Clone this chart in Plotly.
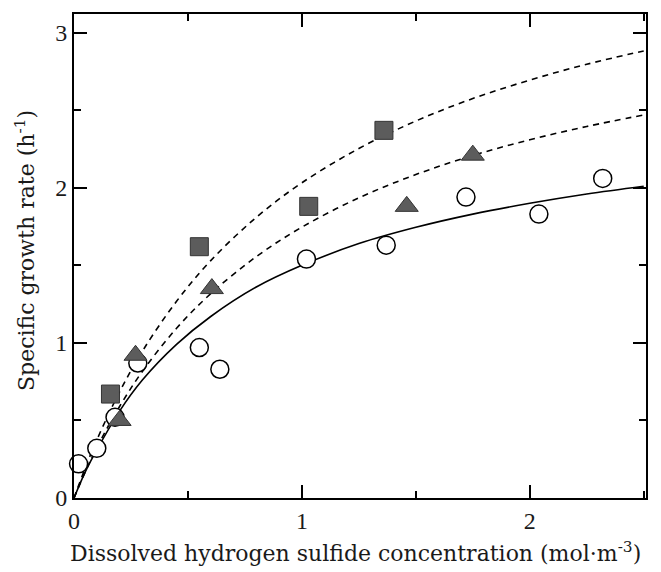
import plotly.graph_objects as go

# Data
circle_x = [0.02, 0.10, 0.18, 0.28, 0.55, 0.64, 1.02, 1.37, 1.72, 2.04, 2.32]
circle_y = [0.22, 0.32, 0.52, 0.87, 0.97, 0.83, 1.54, 1.63, 1.94, 1.83, 2.06]

square_x = [0.16, 0.55, 1.03, 1.36]
square_y = [0.67, 1.62, 1.88, 2.37]

triangle_x = [0.20, 0.27, 0.605, 1.46, 1.75]
triangle_y = [0.50, 0.92, 1.35, 1.88, 2.21]

curve_x = [0, 0.05, 0.1, 0.2, 0.3, 0.45, 0.6, 0.8, 1.0, 1.25, 1.5, 1.75, 2.0, 2.25, 2.5]
solid_y = [0, 0.17, 0.31, 0.56, 0.76, 0.99, 1.17, 1.36, 1.50, 1.64, 1.745, 1.83, 1.90, 1.96, 2.01]
dash_low_y = [0, 0.17, 0.324, 0.59, 0.816, 1.094, 1.317, 1.556, 1.746, 1.935, 2.085, 2.208, 2.309, 2.395, 2.469]
dash_up_y = [0, 0.196, 0.374, 0.684, 0.946, 1.268, 1.53, 1.809, 2.032, 2.253, 2.43, 2.575, 2.694, 2.796, 2.882]

x_ticks = [0, 1, 2]
y_ticks = [0, 1, 2, 3]
x_title = "Dissolved hydrogen sulfide concentration (mol\u00b7m<sup>-3</sup>)"
y_title = "Specific growth rate (h<sup>-1</sup>)"

GRAY = "#5c5c5c"

fig = go.Figure()
fig.add_trace(go.Scatter(x=curve_x, y=dash_up_y, mode="lines", line_shape="spline",
                         line=dict(color="black", width=1.6, dash="6px,5px"), showlegend=False))
fig.add_trace(go.Scatter(x=curve_x, y=dash_low_y, mode="lines", line_shape="spline",
                         line=dict(color="black", width=1.6, dash="6px,5px"), showlegend=False))
fig.add_trace(go.Scatter(x=curve_x, y=solid_y, mode="lines", line_shape="spline",
                         line=dict(color="black", width=1.6), showlegend=False))
fig.add_trace(go.Scatter(x=circle_x, y=circle_y, mode="markers", cliponaxis=False,
                         marker=dict(symbol="circle", size=18, color="white",
                                     line=dict(color="black", width=1.5)), showlegend=False))
fig.add_trace(go.Scatter(x=triangle_x, y=triangle_y, mode="markers", cliponaxis=False,
                         marker=dict(symbol="triangle-up", size=20, color=GRAY,
                                     line=dict(color="#333333", width=1)), showlegend=False))
fig.add_trace(go.Scatter(x=square_x, y=square_y, mode="markers", cliponaxis=False,
                         marker=dict(symbol="square", size=18, color=GRAY,
                                     line=dict(color="#333333", width=1)), showlegend=False))

axis_common = dict(showline=True, linecolor="black", linewidth=2, mirror="ticks",
                   ticks="inside", ticklen=13, tickwidth=1.5, tickcolor="black",
                   showgrid=False, zeroline=False,
                   tickfont=dict(family="Liberation Serif", size=24, color="#1a1a1a"),
                   minor=dict(ticks="inside", ticklen=7, tickwidth=1.5, tickcolor="black", dtick=0.5))

fig.update_xaxes(range=[0, 2.51], tickvals=x_ticks, **axis_common)
fig.update_yaxes(range=[0, 3.12], tickvals=y_ticks, **axis_common)

fig.add_annotation(text=x_title, xref="paper", yref="paper", x=0.493, y=-0.112,
                   showarrow=False, xanchor="center", yanchor="middle",
                   font=dict(family="DejaVu Serif", size=22, color="#1a1a1a"))
fig.add_annotation(text=y_title, xref="paper", yref="paper", x=-0.086, y=0.512,
                   showarrow=False, xanchor="center", yanchor="middle", textangle=-90,
                   font=dict(family="DejaVu Serif", size=22, color="#1a1a1a"))

fig.update_layout(width=661, height=572, margin=dict(l=74, r=15, t=14, b=74),
                  plot_bgcolor="white", paper_bgcolor="white")

fig.write_html("out.html", config={"displayModeBar": False},
               post_script="document.body.style.margin='0';")
